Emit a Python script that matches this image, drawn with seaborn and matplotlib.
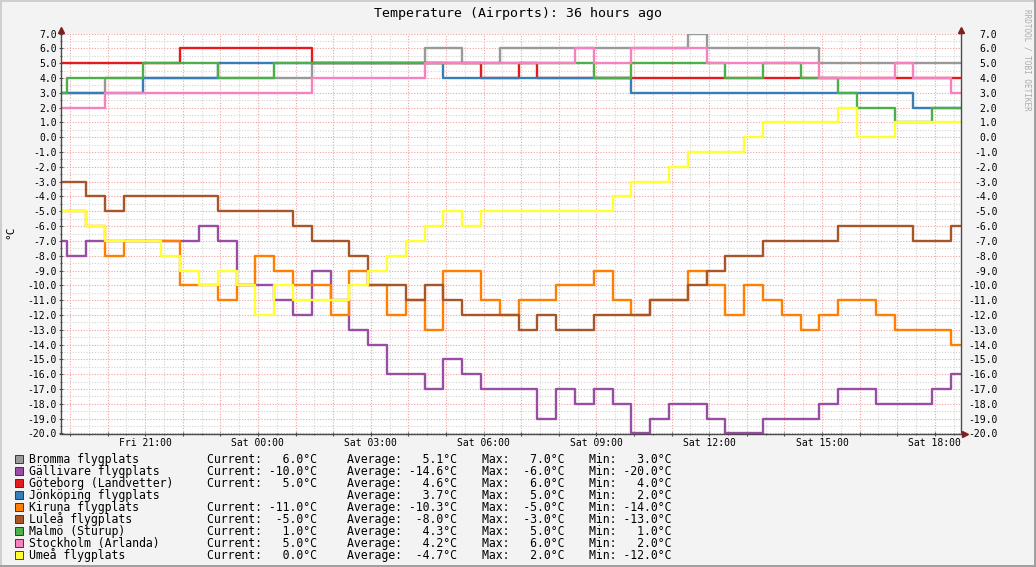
import numpy as np
import pandas as pd
import matplotlib
matplotlib.use("Agg")
import matplotlib.pyplot as plt
from matplotlib.patches import Rectangle
from matplotlib.lines import Line2D
from matplotlib.ticker import MultipleLocator, FuncFormatter
import seaborn as sns

# ---------------- data ----------------
stations = ["Bromma flygplats", "Gällivare flygplats", "Göteborg (Landvetter)",
            "Jönköping flygplats", "Kiruna flygplats", "Luleå flygplats",
            "Malmö (Sturup)", "Stockholm (Arlanda)", "Umeå flygplats"]
colors = ["#999999", "#984EA3", "#E41A1C", "#377EB8", "#FF7F00",
          "#A65628", "#4DAF4A", "#F781BF", "#FFFF33"]

bromma = [3, 3, 3, 4, 4, 4, 4, 4, 4, 4, 4, 4, 4, 4, 5, 5, 5, 5, 5, 5, 6, 6, 5, 5,
          6, 6, 6, 6, 6, 6, 6, 6, 6, 6, 7, 6, 6, 6, 6, 6, 6, 5, 5, 5, 5, 5, 5, 5, 5]
gallivare = [-7, -8, -7, -7, -7, -7, -7, -7, -6, -7, -10, -10, -11, -12, -9, -11,
             -13, -14, -16, -16, -17, -15, -16, -17, -17, -17, -19, -17, -18, -17,
             -18, -20, -19, -18, -18, -19, -20, -20, -19, -19, -19, -18, -17, -17,
             -18, -18, -18, -17, -16]
goteborg = [5, 5, 5, 5, 5, 5, 5, 6, 6, 6, 6, 6, 6, 6, 5, 5, 5, 5, 5, 5, 5, 5, 5,
            4, 4, 5, 4, 4, 4, 4, 4, 4, 4, 4, 4, 4, 4, 4, 4, 4, 4, 4, 4, 4, 4, 4, 4, 4, 4]
jonkoping = [3, 3, 3, 3, 3, 4, 4, 4, 4, 5, 5, 5, 5, 5, 5, 5, 5, 5, 5, 5, 5,
             4, 4, 4, 4, 4, 4, 4, 4, 4, 4, 3, 3, 3, 3, 3, 3, 3, 3, 3, 3, 3, 3, 3, 3, 3,
             2, 2, 2]
kiruna = [-5, -5, -6, -8, -7, -7, -7, -10, -10, -11, -10, -8, -9, -10, -10, -12,
          -9, -10, -12, -11, -13, -9, -9, -11, -12, -11, -11, -10, -10, -9, -11,
          -12, -11, -11, -9, -10, -12, -10, -11, -12, -13, -12, -11, -11, -12,
          -13, -13, -13, -14]
lulea = [-3, -3, -4, -5, -4, -4, -4, -4, -4, -5, -5, -5, -5, -6, -7, -7, -8, -10,
         -10, -11, -10, -11, -12, -12, -12, -13, -12, -13, -13, -12, -12, -12,
         -11, -11, -10, -9, -8, -8, -7, -7, -7, -7, -6, -6, -6, -6, -7, -7, -6]
malmo = [3, 4, 4, 4, 4, 5, 5, 5, 5, 4, 4, 4, 5, 5, 5, 5, 5, 5, 5, 5, 5, 5, 5, 5,
         5, 5, 5, 5, 5, 4, 4, 5, 5, 5, 5, 5, 4, 4, 5, 5, 4, 4, 3, 2, 2, 1, 1, 2, 2]
stockholm = [2, 2, 2, 3, 3, 3, 3, 3, 3, 3, 3, 3, 3, 3, 4, 4, 4, 4, 4, 4, 5, 5, 5,
             5, 5, 5, 5, 5, 6, 5, 5, 6, 6, 6, 6, 5, 5, 5, 5, 5, 5, 4, 4, 4, 4, 5, 4, 4, 3]
umea = [-5, -5, -6, -7, -7, -7, -8, -9, -10, -9, -10, -12, -10, -11, -11, -11,
        -10, -9, -8, -7, -6, -5, -6, -5, -5, -5, -5, -5, -5, -5, -4, -3, -3, -2,
        -1, -1, -1, 0, 1, 1, 1, 1, 2, 0, 0, 1, 1, 1, 1]

current = [6.0, -10.0, 5.0, None, -11.0, -5.0, 1.0, 5.0, 0.0]
average = [5.1, -14.6, 4.6, 3.7, -10.3, -8.0, 4.3, 4.2, -4.7]
maximum = [7.0, -6.0, 6.0, 5.0, -5.0, -3.0, 5.0, 6.0, 2.0]
minimum = [3.0, -20.0, 4.0, 2.0, -14.0, -13.0, 1.0, 2.0, -12.0]

title = "Temperature (Airports): 36 hours ago"
unit = "°C"
x_tick_hours = [21, 24, 27, 30, 33, 36, 39, 42]
x_tick_labels = ["Fri 21:00", "Sat 00:00", "Sat 03:00", "Sat 06:00",
                 "Sat 09:00", "Sat 12:00", "Sat 15:00", "Sat 18:00"]

# time in hours since Friday 00:00
view_start = 18 + 45 / 60
first_report = 18 + 56 / 60
report_step = 0.5
view_end = 42 + 41 / 60

series = [bromma, gallivare, goteborg, jonkoping, kiruna, lulea, malmo, stockholm, umea]
n_reports = len(bromma) - 1
times = np.concatenate([[view_start], first_report + report_step * np.arange(n_reports), [view_end]])

rows = []
for name, vals in zip(stations, series):
    v = list(vals) + [vals[-1]]
    rows.append(pd.DataFrame({"time": times, "temp": v, "station": name}))
df = pd.concat(rows, ignore_index=True)

# ---------------- figure ----------------
MONO = "DejaVu Sans Mono"
plt.rcParams["font.family"] = MONO
W, H = 1036, 567
fig = plt.figure(figsize=(W / 100, H / 100), dpi=100, facecolor="#F3F3F3")

def fx(x):
    return x / W

def fy(y):
    return 1 - y / H

ax = fig.add_axes([fx(60.5), fy(433.5), fx(960.5) - fx(60.5), fy(33.5) - fy(433.5)])
ax.set_facecolor("white")

sns.lineplot(data=df, x="time", y="temp", hue="station", hue_order=stations,
             palette=dict(zip(stations, colors)), estimator=None, sort=False,
             drawstyle="steps-post", linewidth=1.7, legend=False, ax=ax)

ax.set_xlim(view_start, view_end)
ax.set_ylim(-20, 7)
ax.set_xlabel("")
ax.set_ylabel("")

ax.xaxis.set_major_locator(MultipleLocator(1))
ax.xaxis.set_minor_locator(MultipleLocator(0.5))
ax.yaxis.set_major_locator(MultipleLocator(1))
ax.yaxis.set_minor_locator(MultipleLocator(0.5))

lab_map = dict(zip(x_tick_hours, x_tick_labels))
ax.xaxis.set_major_formatter(FuncFormatter(lambda v, p: lab_map.get(int(round(v)), "")))
ax.yaxis.set_major_formatter(FuncFormatter(lambda v, p: f"{v:.1f}"))

ax.set_axisbelow(True)
ax.grid(which="major", color="#F0A0A0", linestyle=(0, (1, 1.5)), linewidth=0.8)
ax.grid(which="minor", color="#D4D4D4", linestyle=(0, (1, 1.5)), linewidth=0.8)

axis_col = "#4A4A4A"
for s in ["left", "right", "bottom"]:
    ax.spines[s].set_color(axis_col)
    ax.spines[s].set_linewidth(1.0)
ax.spines["top"].set_visible(False)

ax.tick_params(axis="both", which="major", direction="inout", length=3, width=0.8,
               color=axis_col, labelsize=7, labelcolor="black", pad=1)
ax.tick_params(axis="both", which="minor", direction="inout", length=2, width=0.6,
               color=axis_col)
ax.tick_params(axis="y", which="both", left=True, right=True)
ax.tick_params(axis="x", which="major", pad=2)

# right axis labels
ax2 = ax.twinx()
ax2.set_ylim(-20, 7)
ax2.yaxis.set_major_locator(MultipleLocator(1))
ax2.yaxis.set_major_formatter(FuncFormatter(lambda v, p: f"{v:.1f}"))
ax2.tick_params(axis="y", which="major", length=0, labelsize=7, pad=26.5)
for s in ax2.spines.values():
    s.set_visible(False)
fig.canvas.draw()
for t in ax2.get_yticklabels():
    t.set_horizontalalignment("right")

# axis extensions and arrows
arrow_col = "#7F1F1F"
fig.add_artist(Line2D([fx(60.5), fx(60.5)], [fy(34), fy(29)], color=axis_col, lw=1.0))
fig.add_artist(Line2D([fx(960.5), fx(960.5)], [fy(34), fy(29)], color=axis_col, lw=1.0))
fig.add_artist(Line2D([fx(960.5), fx(964)], [fy(433.5), fy(433.5)], color=axis_col, lw=1.0))
fig.add_artist(Line2D([fx(60.5)], [fy(30)], marker="^", markersize=5, color=arrow_col, lw=0))
fig.add_artist(Line2D([fx(960.5)], [fy(30)], marker="^", markersize=5, color=arrow_col, lw=0))
fig.add_artist(Line2D([fx(965)], [fy(433.5)], marker=">", markersize=5, color=arrow_col, lw=0))

# texts
fig.text(fx(518), fy(14), title, ha="center", va="center", fontsize=9.5, family=MONO)
fig.text(fx(10), fy(232), unit, ha="center", va="center", rotation=90, fontsize=8, family=MONO)
fig.text(fx(1027), fy(60), "RRDTOOL / TOBI OETIKER", ha="center", va="center",
         rotation=270, fontsize=5.5, color="#ABABAB", family=MONO)

# legend
fs = 8.3
for i, name in enumerate(stations):
    yy = 459 + 12 * i
    base = fy(yy + 4)
    fig.add_artist(Rectangle((fx(14.5), fy(yy + 4)), fx(8), fy(0) - fy(8),
                             facecolor=colors[i], edgecolor="#222222", lw=0.6,
                             transform=fig.transFigure))
    fig.text(fx(29), base, name, ha="left", va="baseline", fontsize=fs, family=MONO)
    if current[i] is not None:
        fig.text(fx(207), base, f"Current:{current[i]:6.1f}°C", ha="left", va="baseline",
                 fontsize=fs, family=MONO)
    fig.text(fx(347), base, f"Average:{average[i]:6.1f}°C", ha="left", va="baseline",
             fontsize=fs, family=MONO)
    fig.text(fx(482), base, f"Max:{maximum[i]:6.1f}°C", ha="left", va="baseline",
             fontsize=fs, family=MONO)
    fig.text(fx(589), base, f"Min:{minimum[i]:6.1f}°C", ha="left", va="baseline",
             fontsize=fs, family=MONO)

# frame
fig.add_artist(Line2D([0, 1], [fy(0.7), fy(0.7)], color="#CFCFCF", lw=1.4))
fig.add_artist(Line2D([fx(0.7), fx(0.7)], [0, 1], color="#CFCFCF", lw=1.4))
fig.add_artist(Line2D([0, 1], [fy(566.3), fy(566.3)], color="#9E9E9E", lw=1.4))
fig.add_artist(Line2D([fx(1035.3), fx(1035.3)], [0, 1], color="#9E9E9E", lw=1.4))

fig.savefig("out.png", dpi=100, facecolor=fig.get_facecolor())
